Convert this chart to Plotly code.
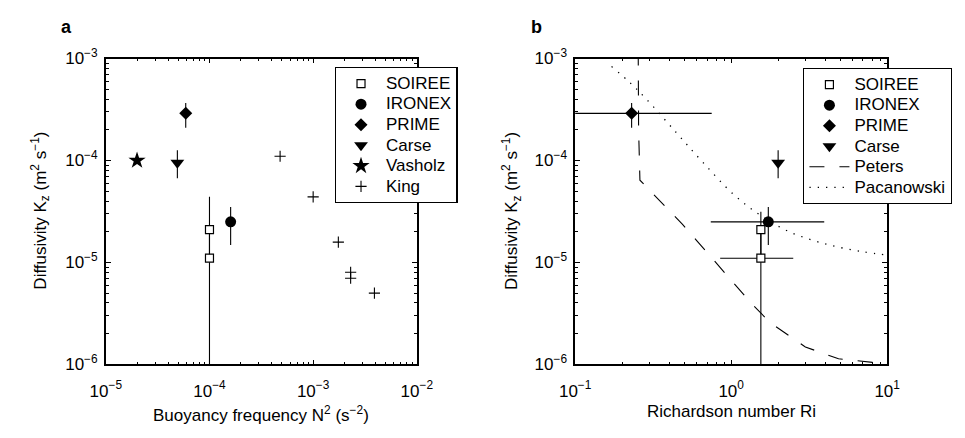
import plotly.graph_objects as go

# ---------------- Panel a: Kz against buoyancy frequency N^2 ----------------
soiree_n2 = [1e-4, 1e-4]
soiree_kz = [2.1e-5, 1.1e-5]
soiree_kz_hi_a = [4.4e-5, 2.1e-5]
soiree_kz_lo_a = [1.1e-5, 1e-7]

ironex_n2 = [1.6e-4]
ironex_kz = [2.5e-5]
ironex_kz_hi = [3.5e-5]
ironex_kz_lo = [1.48e-5]

prime_n2 = [5.9e-5]
prime_kz = [2.9e-4]
prime_kz_hi = [3.67e-4]
prime_kz_lo = [2.1e-4]

carse_n2 = [4.9e-5]
carse_kz = [9.5e-5]
carse_kz_hi = [1.26e-4]
carse_kz_lo = [6.7e-5]

vasholz_n2 = [2.0e-5]
vasholz_kz = [1.0e-4]

king_n2 = [4.8e-4, 1.0e-3, 1.75e-3, 2.3e-3, 2.3e-3, 3.9e-3]
king_kz = [1.1e-4, 4.4e-5, 1.58e-5, 8.0e-6, 7.0e-6, 5.0e-6]

# ---------------- Panel b: Kz against Richardson number ----------------
soiree_ri = [1.55, 1.55]
soiree_ri_lo = [1.55, 0.85]
soiree_ri_hi = [1.55, 2.5]
soiree_kz_hi_b = [3.15e-5, 2.1e-5]
soiree_kz_lo_b = [1.1e-5, 1e-7]

ironex_ri = [1.73]
ironex_ri_lo = [0.74]
ironex_ri_hi = [3.95]

prime_ri = [0.23]
prime_ri_lo = [0.05]
prime_ri_hi = [0.75]

carse_ri = [2.0]

peters_ri = [0.2535, 0.255, 0.26, 0.416, 0.486, 0.603, 0.809, 1.08, 1.32,
             1.77, 2.99, 4.88, 9.27, 10.0]
peters_kz = [1.2e-3, 2.0e-4, 6.41e-5, 3.05e-5, 2.38e-5, 1.63e-5, 9.7e-6,
             5.76e-6, 4.11e-6, 2.58e-6, 1.48e-6, 1.135e-6, 1.02e-6, 1.01e-6]

pacanowski_ri = [0.171, 0.221, 0.282, 0.443, 0.654, 1.04, 1.52, 2.34, 4.07,
                 7.03, 10.0]
pacanowski_kz = [8.37e-4, 5.93e-4, 4.09e-4, 1.89e-4, 9.7e-5, 4.62e-5,
                 2.94e-5, 2.01e-5, 1.51e-5, 1.27e-5, 1.18e-5]

# ---------------- Axis ticks ----------------
n2_tickvals = [1e-5, 1e-4, 1e-3, 1e-2]
n2_ticktext = ["10<sup>\u22125</sup>", "10<sup>\u22124</sup>",
               "10<sup>\u22123</sup>", "10<sup>\u22122</sup>"]
ri_tickvals = [1e-1, 1e0, 1e1]
ri_ticktext = ["10<sup>\u22121</sup>", "10<sup>0</sup>", "10<sup>1</sup>"]
kz_tickvals = [1e-6, 1e-5, 1e-4, 1e-3]
kz_ticktext = ["10<sup>\u22126</sup>", "10<sup>\u22125</sup>",
               "10<sup>\u22124</sup>", "10<sup>\u22123</sup>"]

FONT = "Liberation Sans, Arial, Helvetica, sans-serif"
BLACK = "black"


def minor_vals(lo_exp, hi_exp):
    out = []
    for e in range(lo_exp, hi_exp):
        for m in range(2, 10):
            out.append(m * 10.0 ** e)
    return out


def err(vals, hi, lo):
    return dict(type="data", symmetric=False,
                array=[h - v for h, v in zip(hi, vals)],
                arrayminus=[v - l for l, v in zip(lo, vals)],
                color=BLACK, thickness=1.1, width=0)


def label(name):
    # legend entries keep a compact row height while the text stays large
    return '<span style="font-size:17px">' + name + "</span>"


fig = go.Figure()

# ----- panel a traces -----
fig.add_trace(go.Scatter(
    x=soiree_n2, y=soiree_kz, mode="markers", name=label("SOIREE"),
    marker=dict(symbol="square", size=8, color="white",
                line=dict(color=BLACK, width=1.2)),
    error_y=err(soiree_kz, soiree_kz_hi_a, soiree_kz_lo_a),
    xaxis="x", yaxis="y", legend="legend"))
fig.add_trace(go.Scatter(
    x=ironex_n2, y=ironex_kz, mode="markers", name=label("IRONEX"),
    marker=dict(symbol="circle", size=11, color=BLACK),
    error_y=err(ironex_kz, ironex_kz_hi, ironex_kz_lo),
    xaxis="x", yaxis="y", legend="legend"))
fig.add_trace(go.Scatter(
    x=prime_n2, y=prime_kz, mode="markers", name=label("PRIME"),
    marker=dict(symbol="diamond", size=10, color=BLACK),
    error_y=err(prime_kz, prime_kz_hi, prime_kz_lo),
    xaxis="x", yaxis="y", legend="legend"))
fig.add_trace(go.Scatter(
    x=carse_n2, y=carse_kz, mode="markers", name=label("Carse"),
    marker=dict(symbol="triangle-down", size=12, color=BLACK),
    error_y=err(carse_kz, carse_kz_hi, carse_kz_lo),
    xaxis="x", yaxis="y", legend="legend"))
fig.add_trace(go.Scatter(
    x=vasholz_n2, y=vasholz_kz, mode="markers", name=label("Vasholz"),
    marker=dict(symbol="star", size=13, color=BLACK),
    xaxis="x", yaxis="y", legend="legend"))
fig.add_trace(go.Scatter(
    x=king_n2, y=king_kz, mode="markers", name=label("King"),
    marker=dict(symbol="cross-thin-open", size=8, color=BLACK,
                line=dict(color=BLACK, width=1.1)),
    xaxis="x", yaxis="y", legend="legend"))

# ----- panel b traces -----
fig.add_trace(go.Scatter(
    x=peters_ri, y=peters_kz, mode="lines", name=label("Peters"),
    line=dict(color=BLACK, width=1.1, dash="15px,15px"),
    xaxis="x2", yaxis="y2", legend="legend2", legendrank=5))
fig.add_trace(go.Scatter(
    x=pacanowski_ri, y=pacanowski_kz, mode="lines", name=label("Pacanowski"),
    line=dict(color=BLACK, width=1.3, dash="1.3px,7px", shape="spline"),
    xaxis="x2", yaxis="y2", legend="legend2", legendrank=6))
fig.add_trace(go.Scatter(
    x=soiree_ri, y=soiree_kz, mode="markers", name=label("SOIREE"),
    marker=dict(symbol="square", size=8, color="white",
                line=dict(color=BLACK, width=1.2)),
    error_y=err(soiree_kz, soiree_kz_hi_b, soiree_kz_lo_b),
    error_x=err(soiree_ri, soiree_ri_hi, soiree_ri_lo),
    xaxis="x2", yaxis="y2", legend="legend2", legendrank=1))
fig.add_trace(go.Scatter(
    x=ironex_ri, y=ironex_kz, mode="markers", name=label("IRONEX"),
    marker=dict(symbol="circle", size=11, color=BLACK),
    error_y=err(ironex_kz, ironex_kz_hi, ironex_kz_lo),
    error_x=err(ironex_ri, ironex_ri_hi, ironex_ri_lo),
    xaxis="x2", yaxis="y2", legend="legend2", legendrank=2))
fig.add_trace(go.Scatter(
    x=prime_ri, y=prime_kz, mode="markers", name=label("PRIME"),
    marker=dict(symbol="diamond", size=10, color=BLACK),
    error_y=err(prime_kz, prime_kz_hi, prime_kz_lo),
    error_x=err(prime_ri, prime_ri_hi, prime_ri_lo),
    xaxis="x2", yaxis="y2", legend="legend2", legendrank=3))
fig.add_trace(go.Scatter(
    x=carse_ri, y=carse_kz, mode="markers", name=label("Carse"),
    marker=dict(symbol="triangle-down", size=12, color=BLACK),
    error_y=err(carse_kz, carse_kz_hi, carse_kz_lo),
    xaxis="x2", yaxis="y2", legend="legend2", legendrank=4))

W, H = 965, 438


def px_x(p):
    return p / W


def px_y(p):
    return 1 - p / H


def axis(domain, rng, tickvals, ticktext, minor, anchor, standoff):
    return dict(
        type="log", domain=domain, range=rng, anchor=anchor,
        showline=True, linecolor=BLACK, linewidth=1.5, mirror="ticks",
        ticks="inside", ticklen=5, tickwidth=1, tickcolor=BLACK,
        tickmode="array", tickvals=tickvals, ticktext=ticktext,
        tickfont=dict(family=FONT, size=17, color=BLACK),
        ticklabelstandoff=standoff,
        minor=dict(tickmode="array", tickvals=minor, ticks="inside",
                   ticklen=3, tickwidth=1, tickcolor=BLACK, showgrid=False),
        showgrid=False, zeroline=False, fixedrange=True)


def legend_box(left, top):
    return dict(x=px_x(left), y=px_y(top), xanchor="left", yanchor="top",
                bgcolor="white", bordercolor=BLACK, borderwidth=1.3,
                font=dict(family=FONT, size=13.5, color=BLACK),
                tracegroupgap=0, itemsizing="trace", itemwidth=40,
                traceorder="normal")


y_dom = [px_y(371), px_y(49)]
fig.update_layout(
    width=W, height=H, margin=dict(l=0, r=0, t=0, b=0),
    paper_bgcolor="white", plot_bgcolor="white",
    font=dict(family=FONT, size=15, color=BLACK),
    xaxis=axis([px_x(93), px_x(415)], [-5, -2], n2_tickvals, n2_ticktext,
               minor_vals(-5, -2), "y", 10),
    yaxis=axis(y_dom, [-6, -3], kz_tickvals, kz_ticktext,
               minor_vals(-6, -3), "x", 3),
    xaxis2=axis([px_x(579), px_x(902)], [-1, 1], ri_tickvals, ri_ticktext,
                minor_vals(-1, 1), "y2", 10),
    yaxis2=axis(y_dom, [-6, -3], kz_tickvals, kz_ticktext,
                minor_vals(-6, -3), "x2", 3),
    legend=legend_box(330, 58),
    legend2=legend_box(815, 59),
    showlegend=True,
)

annots = [
    dict(text="<b>a</b>", x=px_x(52), y=px_y(16), size=18),
    dict(text="<b>b</b>", x=px_x(539), y=px_y(16), size=18),
    dict(text="Buoyancy frequency N<sup>2</sup> (s<sup>\u22122</sup>)",
         x=px_x(254), y=px_y(423), size=17),
    dict(text="Richardson number Ri", x=px_x(741), y=px_y(421), size=17),
]
for a in annots:
    fig.add_annotation(text=a["text"], x=a["x"], y=a["y"], xref="paper",
                       yref="paper", showarrow=False, xanchor="center",
                       yanchor="middle", font=dict(family=FONT, size=a["size"],
                                                   color=BLACK))
for xc in (25, 513):
    fig.add_annotation(
        text="Diffusivity K<sub>z</sub> (m<sup>2</sup> s<sup>\u22121</sup>)",
        x=px_x(xc), y=px_y(209), xref="paper", yref="paper",
        showarrow=False, textangle=-90, xanchor="center", yanchor="middle",
        font=dict(family=FONT, size=17, color=BLACK))

fig.write_html("out.html")
